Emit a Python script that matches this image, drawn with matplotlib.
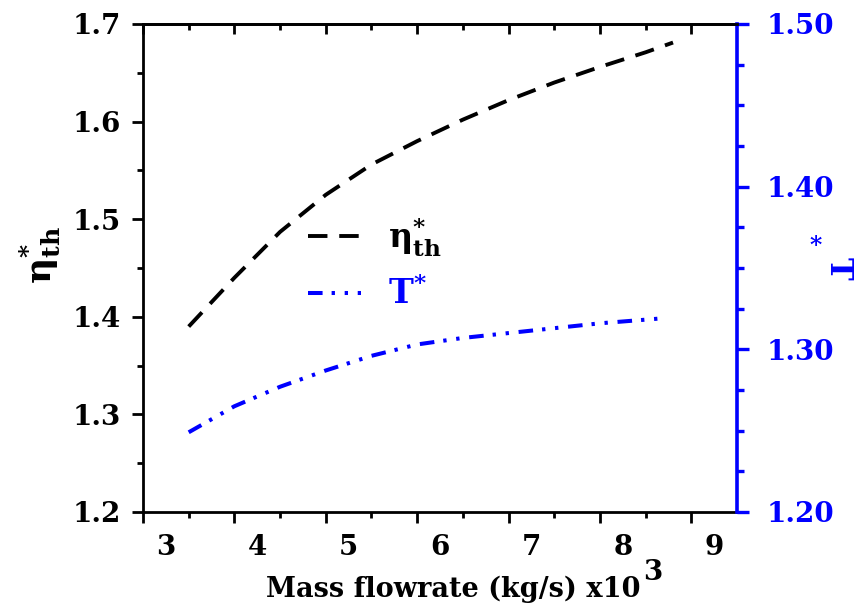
import numpy as np
import matplotlib
matplotlib.use("Agg")
import matplotlib.pyplot as plt
from matplotlib.lines import Line2D
from matplotlib.transforms import ScaledTranslation

# data
flow = [3.5, 4.0, 4.5, 5.0, 5.5, 6.0, 6.5, 7.0, 7.5, 8.0, 8.5, 8.8]
eta_th = [1.390, 1.440, 1.487, 1.525, 1.556, 1.580, 1.602, 1.622, 1.640, 1.656, 1.671, 1.681]

flow_t = [3.5, 4.0, 4.5, 5.0, 5.5, 6.0, 6.5, 7.0, 7.5, 8.0, 8.67]
t_star = [1.249, 1.265, 1.277, 1.287, 1.296, 1.303, 1.307, 1.310, 1.313, 1.316, 1.319]

x_ticks = [3, 4, 5, 6, 7, 8, 9]
left_ticks = [1.2, 1.3, 1.4, 1.5, 1.6, 1.7]
right_ticks = [1.20, 1.30, 1.40, 1.50]

plt.rcParams["font.family"] = ["DejaVu Serif"]
plt.rcParams["font.weight"] = "bold"
plt.rcParams["mathtext.fontset"] = "dejavuserif"
plt.rcParams["lines.scale_dashes"] = False

blue = "#0000ff"
eta_dash = (14, 8.5)
t_dash = (10.5, 6.5, 2.4, 7, 2.4, 7)
rect = [143 / 856, 1 - 512 / 608, 594 / 856, 488 / 608]

fig = plt.figure(figsize=(8.56, 6.08), dpi=100)
ax = fig.add_axes(rect)
ax2 = ax.twinx()

ax.plot(flow, eta_th, color="black", lw=2.8, dashes=eta_dash, dash_capstyle="butt")
ax2.plot(flow_t, t_star, color=blue, lw=2.9, dashes=t_dash, dash_capstyle="butt")

ax.set_xlim(3, 9.5)
ax.set_ylim(1.2, 1.7)
ax2.set_ylim(1.2, 1.5)

ax.set_xticks(x_ticks)
ax.set_xticklabels([str(v) for v in x_ticks])
ax.set_xticks(np.arange(3.5, 9.5, 1.0), minor=True)
ax.set_yticks(left_ticks)
ax.set_yticklabels([f"{v:.1f}" for v in left_ticks])
ax.set_yticks(np.arange(1.25, 1.7, 0.1), minor=True)
ax2.set_yticks(right_ticks)
ax2.set_yticklabels([f"{v:.2f}" for v in right_ticks])
ax2.set_yticks(np.arange(1.2, 1.5001, 0.025), minor=True)

for a in (ax, ax2):
    for sp in a.spines.values():
        sp.set_linewidth(2.0)
ax.spines["right"].set_visible(False)
ax2.spines["left"].set_visible(False)
ax2.spines["bottom"].set_visible(False)
ax2.spines["right"].set_color(blue)
ax2.spines["right"].set_linewidth(2.6)

ax.tick_params(axis="x", which="major", direction="out", length=8, width=2, labelsize=20, pad=8)
ax.tick_params(axis="x", which="minor", direction="out", length=4.5, width=2)
ax.tick_params(axis="y", which="major", direction="out", length=8, width=2, labelsize=20, pad=8)
ax.tick_params(axis="y", which="minor", direction="out", length=4.5, width=2)
ax2.tick_params(axis="y", which="major", direction="out", length=8.5, width=2.4, colors=blue,
                labelsize=20, pad=13)
ax2.tick_params(axis="y", which="minor", direction="out", length=5, width=2.4, colors=blue)

# overlay axes only for the inward top ticks
axt = fig.add_axes(rect, frameon=False, label="top ticks")
axt.set_xlim(3, 9.5)
axt.set_xticks(x_ticks)
axt.set_xticks(np.arange(3.5, 9.5, 1.0), minor=True)
axt.set_yticks([])
axt.xaxis.tick_top()
axt.tick_params(axis="x", which="both", direction="in", width=2, color="black",
                labeltop=False, labelbottom=False, bottom=False, top=True)
axt.tick_params(axis="x", which="major", length=7.5)
axt.tick_params(axis="x", which="minor", length=4.5)

shift = ScaledTranslation(23 / 100, 0, fig.dpi_scale_trans)
for lab in ax.get_xticklabels():
    lab.set_transform(lab.get_transform() + shift)

handles = [
    Line2D([], [], color="black", lw=2.8, dashes=eta_dash),
    Line2D([], [], color=blue, lw=2.9, dashes=t_dash),
]
leg = ax.legend(handles, [r"$\mathrm{\eta}^{*}_{\mathbf{th}}$", r"$\mathbf{T}^{*}$"],
                loc="center left", bbox_to_anchor=(0.278, 0.51), frameon=False,
                fontsize=24, handlelength=1.6, handletextpad=0.8, labelspacing=0.55,
                borderpad=0, borderaxespad=0, labelcolor=["black", blue])

fig.text(40 / 856, 1 - 255 / 608, r"$\mathrm{\eta}^{*}_{\mathbf{th}}$", rotation=90,
         ha="center", va="center", fontsize=26)
fig.text(838 / 856, 1 - 268 / 608, "T", rotation=-90, ha="center", va="center",
         fontsize=22, color=blue)
fig.text(816 / 856, 1 - 246 / 608, "*", ha="center", va="center", fontsize=17, color=blue)

fig.text(266 / 856, 1 - 589 / 608, "Mass flowrate (kg/s) x10", ha="left", va="center",
         fontsize=19.5)
fig.text(643 / 856, 1 - 572 / 608, "3", ha="left", va="center", fontsize=20)

fig.savefig("out.png", dpi=100)
